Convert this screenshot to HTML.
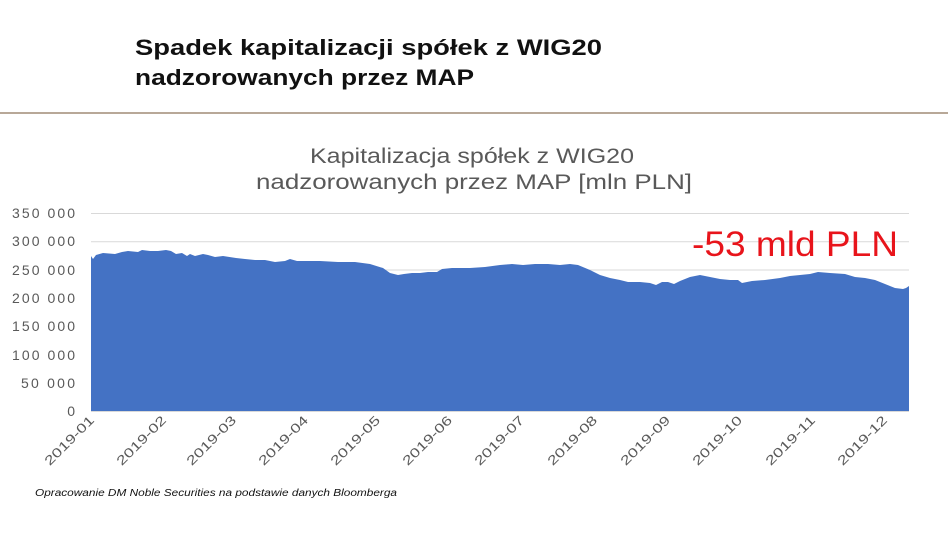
<!DOCTYPE html>
<html><head><meta charset="utf-8"><style>
body{margin:0;width:948px;height:533px;background:#fff;overflow:hidden;font-family:"Liberation Sans",sans-serif;position:relative}
</style></head><body>
<div style="position:absolute;left:0;top:112px;width:948px;height:2px;background:#b8a898"></div>
<svg width="948" height="533" style="position:absolute;left:0;top:0" font-family="Liberation Sans, sans-serif">
<text x="135" y="55" font-size="22" font-weight="bold" fill="#111" textLength="467" lengthAdjust="spacingAndGlyphs">Spadek kapitalizacji spółek z WIG20</text>
<text x="135" y="85" font-size="22" font-weight="bold" fill="#111" textLength="339" lengthAdjust="spacingAndGlyphs">nadzorowanych przez MAP</text>
<text x="310" y="163" font-size="21" fill="#595959" textLength="324" lengthAdjust="spacingAndGlyphs">Kapitalizacja spółek z WIG20</text>
<text x="256" y="189" font-size="21" fill="#595959" textLength="436" lengthAdjust="spacingAndGlyphs">nadzorowanych przez MAP [mln PLN]</text>
<g stroke="#d9d9d9" stroke-width="1">
<line x1="91" x2="909" y1="213.5" y2="213.5"/><line x1="91" x2="909" y1="241.8" y2="241.8"/><line x1="91" x2="909" y1="270" y2="270"/><line x1="91" x2="909" y1="298.4" y2="298.4"/><line x1="91" x2="909" y1="326.7" y2="326.7"/><line x1="91" x2="909" y1="355" y2="355"/><line x1="91" x2="909" y1="383.3" y2="383.3"/><line x1="91" x2="909" y1="411.5" y2="411.5"/>
</g>
<g font-size="14" fill="#595959" text-anchor="end" lengthAdjust="spacingAndGlyphs">
<text x="75" y="218" textLength="63">350 000</text><text x="75" y="246" textLength="63">300 000</text><text x="75" y="275" textLength="63">250 000</text><text x="75" y="303" textLength="63">200 000</text><text x="75" y="331" textLength="63">150 000</text><text x="75" y="360" textLength="63">100 000</text><text x="75" y="388" textLength="54">50 000</text><text x="75" y="416">0</text>
</g>
<polygon fill="#4472c4" points="91,411 91,256 93,259 96,255 103,253 115,254 122,252 128,251 138,252 142,250 150,251 158,251 166,250 171,251 176,254 182,253 187,256 190,254 195,256 203,254 208,255 215,257 223,256 236,258 245,259 255,260 265,260 275,262 285,261 290,259 297,261 308,261 320,261 338,262 355,262 370,264 383,268 390,273 398,275 404,274 412,273 420,273 428,272 437,272 442,269 452,268 458,268 470,268 485,267 500,265 512,264 523,265 535,264 548,264 560,265 570,264 578,265 590,270 600,275 610,278 620,280 628,282 640,282 650,283 656,285 662,282 668,282 674,284 680,281 690,277 700,275 710,277 720,279 730,280 738,280 742,283 752,281 765,280 780,278 790,276 800,275 810,274 818,272 830,273 845,274 855,277 865,278 875,280 885,284 895,288 903,289 906,288 909,286 909,411"/>
<line x1="91" x2="909" y1="411.5" y2="411.5" stroke="#d9d9d9"/>
<text x="692" y="256" font-size="35" fill="#e8141b" textLength="206" lengthAdjust="spacingAndGlyphs">-53 mld PLN</text>
<g font-size="13" fill="#595959" text-anchor="end">
<text transform="translate(95,421) rotate(-45)" textLength="64" lengthAdjust="spacingAndGlyphs">2019-01</text>
<text transform="translate(167,421) rotate(-45)" textLength="64" lengthAdjust="spacingAndGlyphs">2019-02</text>
<text transform="translate(237,421) rotate(-45)" textLength="64" lengthAdjust="spacingAndGlyphs">2019-03</text>
<text transform="translate(309,421) rotate(-45)" textLength="64" lengthAdjust="spacingAndGlyphs">2019-04</text>
<text transform="translate(381,421) rotate(-45)" textLength="64" lengthAdjust="spacingAndGlyphs">2019-05</text>
<text transform="translate(453,421) rotate(-45)" textLength="64" lengthAdjust="spacingAndGlyphs">2019-06</text>
<text transform="translate(525,421) rotate(-45)" textLength="64" lengthAdjust="spacingAndGlyphs">2019-07</text>
<text transform="translate(598,421) rotate(-45)" textLength="64" lengthAdjust="spacingAndGlyphs">2019-08</text>
<text transform="translate(671,421) rotate(-45)" textLength="64" lengthAdjust="spacingAndGlyphs">2019-09</text>
<text transform="translate(743,421) rotate(-45)" textLength="64" lengthAdjust="spacingAndGlyphs">2019-10</text>
<text transform="translate(816,421) rotate(-45)" textLength="64" lengthAdjust="spacingAndGlyphs">2019-11</text>
<text transform="translate(888,421) rotate(-45)" textLength="64" lengthAdjust="spacingAndGlyphs">2019-12</text>
</g>
<text x="35" y="496" font-size="10" font-style="italic" fill="#111" textLength="362" lengthAdjust="spacingAndGlyphs">Opracowanie DM Noble Securities na podstawie danych Bloomberga</text>
</svg>
</body></html>
